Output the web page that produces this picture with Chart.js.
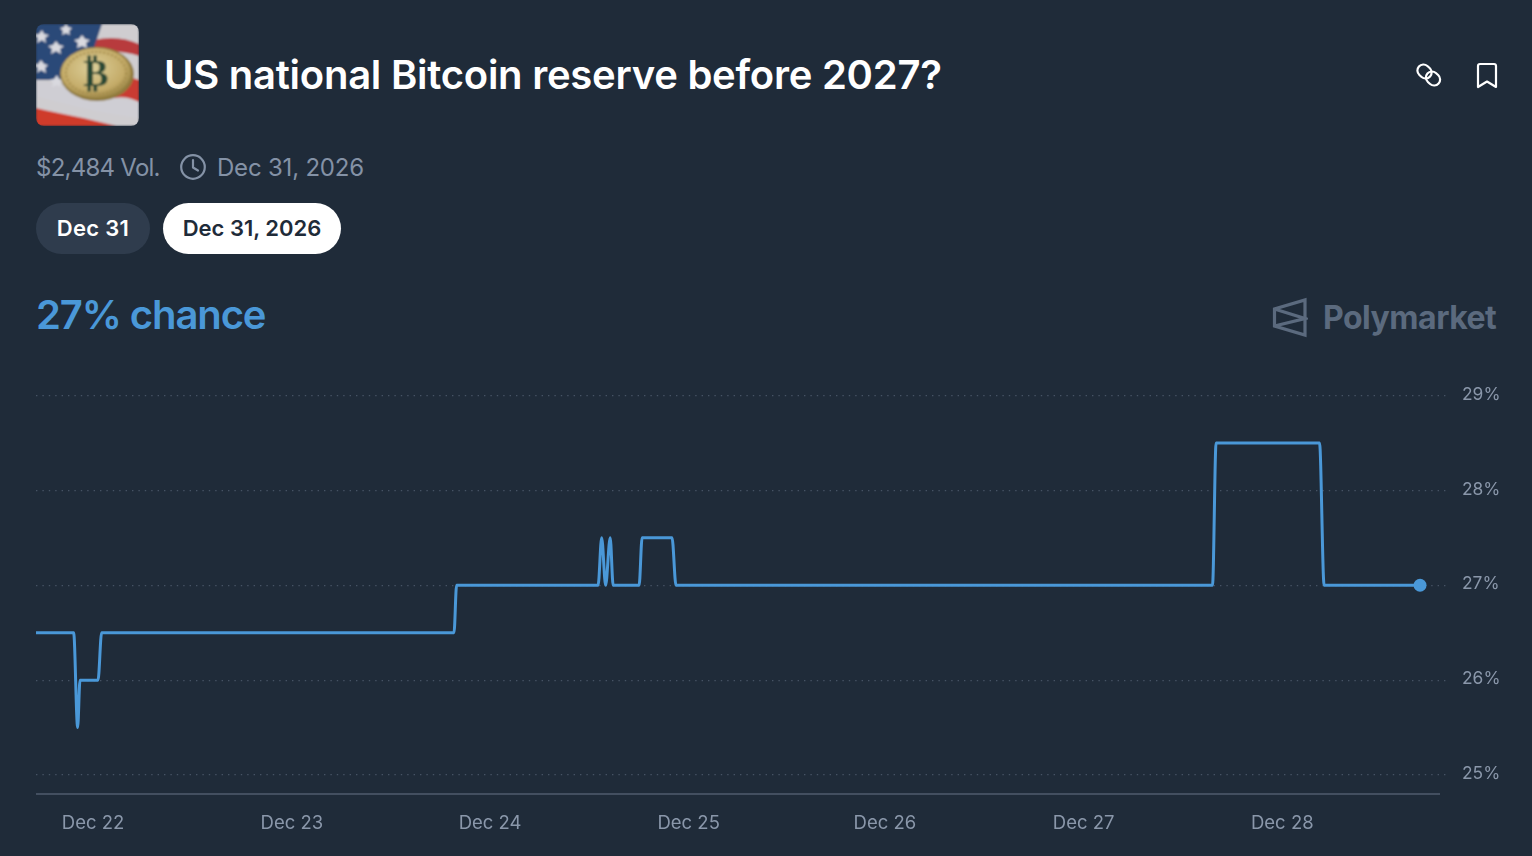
<!DOCTYPE html>
<html>
<head>
<meta charset="utf-8">
<title>US national Bitcoin reserve before 2027?</title>
<script src="https://cdn.jsdelivr.net/npm/chart.js@4"></script>
<style>
html, body { margin: 0; padding: 0; width: 1532px; height: 856px; overflow: hidden; background: #1f2b39; font-family: Inter, "Noto Sans", sans-serif; }
.abs { position: absolute; white-space: nowrap; }
#thumb { left: 36px; top: 24px; width: 103px; height: 102px; border-radius: 8px; overflow: hidden; }
#title { left: 164px; top: 50px; font-size: 40px; line-height: 50px; font-weight: 600; color: #fff; letter-spacing: -0.25px; }
.meta { top: 153px; font-size: 24px; line-height: 30px; color: #8492a6; }
.pill { top: 203px; height: 51px; line-height: 50px; border-radius: 26px; font-size: 22px; font-weight: 600; text-align: center; }
#pill1 { left: 36px; width: 114px; background: #2f3c4d; color: #fff; letter-spacing: 0.3px; }
#pill2 { left: 163px; width: 178px; background: #fff; color: #1f2b39; }
#chance { left: 36px; top: 290px; font-size: 40px; line-height: 50px; font-weight: 600; color: #4a98d8; letter-spacing: -1.1px; }
#brand { left: 1323px; top: 297px; font-size: 32px; line-height: 42px; font-weight: 700; color: #5b6a7e; letter-spacing: -0.5px; }
#wrap { position: absolute; left: 36px; top: 360px; width: 1496px; height: 496px; }
</style>
</head>
<body>

<div class="abs" id="thumb">
<svg width="103" height="102" viewBox="0 0 103 102">
  <defs>
    <filter id="soft"><feGaussianBlur stdDeviation="0.8"/></filter>
    <radialGradient id="gold" cx="45%" cy="40%" r="65%">
      <stop offset="0" stop-color="#dccf9a"/><stop offset="0.7" stop-color="#c4ab68"/><stop offset="1" stop-color="#8f7a3c"/>
    </radialGradient>
  </defs>
  <g filter="url(#soft)">
    <rect width="103" height="102" fill="#cfcdd0"/>
    <path d="M58 16C75 12 90 14 103 20V32C88 27 70 26 54 30Z" fill="#b83a3e"/>
    <path d="M0 0H66L56 30L28 56L0 56Z" fill="#2a4a78"/>
    <path d="M84 50L103 56V78C92 72 82 72 70 76Z" fill="#c93a30"/>
    <path d="M0 56C25 60 60 74 103 78V94C70 90 35 82 0 72Z" fill="#cfced4"/>
    <path d="M0 84C25 90 50 94 80 102H0Z" fill="#cf3a2a"/>
    <path d="M6 6l2 4 5 1-4 3 1 5-4-3-5 3 1-5-4-3 5-1z M30 0l2 3 4 1-3 3 1 4-4-2-4 2 1-4-3-3 4-1z M20 17l3 4 5 1-4 3 1 5-5-3-5 3 1-5-4-3 5-1z M46 11l3 4 5 1-4 3 1 5-5-2-5 2 1-5-4-3 5-1z M5 36l3 4 4 1-3 3 1 5-5-3-4 3 1-5-4-3 4-1z M21 51l2 4 5 1-4 3 1 4-4-2-5 2 1-4-4-3 5-1z" fill="#d9d9df"/>
    <ellipse cx="61" cy="50" rx="37" ry="27" fill="#8f7a3c"/>
    <ellipse cx="60" cy="49" rx="35" ry="25" fill="url(#gold)"/>
    <ellipse cx="60" cy="49" rx="30" ry="21" fill="none" stroke="#a58d4c" stroke-width="2" stroke-dasharray="2 2"/>
    <text x="60" y="62" text-anchor="middle" font-family="DejaVu Sans" font-weight="700" font-size="38" fill="#2c4a35">₿</text>
  </g>
</svg>
</div>

<div class="abs" id="title">US national Bitcoin reserve before 2027?</div>

<svg class="abs" style="left:1414px;top:60px" width="30" height="30" viewBox="0 0 30 30" fill="none" stroke="#fff" stroke-width="2.2">
  <rect x="3" y="5.5" width="15" height="12" rx="6" transform="rotate(42 10.5 11.5)"/>
  <rect x="11.5" y="12.5" width="15" height="12" rx="6" transform="rotate(42 19 18.5)"/>
</svg>
<svg class="abs" style="left:1474px;top:60px" width="26" height="30" viewBox="0 0 26 30" fill="none" stroke="#fff" stroke-width="2.2" stroke-linejoin="round">
  <path d="M4 27V6Q4 4 6 4H20Q22 4 22 6V27L13 21.5Z"/>
</svg>

<div class="abs meta" style="left:36px;letter-spacing:-0.75px">$2,484 Vol.</div>
<svg class="abs" style="left:180px;top:154px" width="26" height="26" viewBox="0 0 26 26" fill="none" stroke="#8492a6" stroke-width="2.2" stroke-linecap="round" stroke-linejoin="round">
  <circle cx="13" cy="13" r="11.8"/><path d="M13 6V13.5L18 16.5"/>
</svg>
<div class="abs meta" style="left:217px;letter-spacing:-0.2px">Dec 31, 2026</div>

<div class="abs pill" id="pill1">Dec 31</div>
<div class="abs pill" id="pill2">Dec 31, 2026</div>

<div class="abs" id="chance">27% chance</div>

<svg class="abs" style="left:1272px;top:297px" width="36" height="41" viewBox="0 0 36 41" fill="none" stroke="#5b6a7e" stroke-width="3.2" stroke-linejoin="miter">
  <path d="M33 3V38L2.5 29V12Z"/>
  <path d="M2.5 12L33 21.5L2.5 29"/>
</svg>
<div class="abs" id="brand">Polymarket</div>

<div id="wrap"><canvas id="chart"></canvas></div>

<script>
// x is the day of December
var seriesDays = [21.712, 21.902, 21.922, 21.934, 22.025, 22.043, 23.821, 23.834, 24.548, 24.566, 24.586, 24.609, 24.624, 24.755, 24.770, 24.921, 24.941, 27.648, 27.666, 28.188, 28.211, 28.695];
var seriesChance = [26.5, 26.5, 25.5, 26, 26, 26.5, 26.5, 27, 27, 27.5, 27, 27.5, 27, 27, 27.5, 27.5, 27, 27, 28.5, 28.5, 27, 27];
var xTickDays = [22, 23.003, 24.003, 25.005, 25.995, 26.998, 28];
var xTickLabels = ['Dec 22', 'Dec 23', 'Dec 24', 'Dec 25', 'Dec 26', 'Dec 27', 'Dec 28'];
var yTickValues = [25, 26, 27, 28, 29];

var points = seriesDays.map(function(d, i) {
    return { x: d, y: seriesChance[i] };
});

var baseline = {
    id: 'baseline',
    afterDatasetsDraw: function(chart) {
        var c = chart.ctx, a = chart.chartArea;
        c.save();
        c.strokeStyle = '#434f60';
        c.lineWidth = 2;
        c.beginPath();
        c.moveTo(a.left, a.bottom);
        c.lineTo(a.right - 6, a.bottom);
        c.stroke();
        c.restore();
    }
};

new Chart(document.getElementById('chart').getContext('2d'), {
    type: 'line',
    data: {
        datasets: [{
            label: 'chance',
            data: points,
            borderColor: '#4a98d8',
            backgroundColor: '#4a98d8',
            borderWidth: 3,
            borderJoinStyle: 'round',
            cubicInterpolationMode: 'monotone',
            clip: false,
            pointBorderWidth: 0,
            pointRadius: function(ctx) { return ctx.dataIndex === points.length - 1 ? 6.5 : 0; }
        }]
    },
    plugins: [baseline],
    options: {
        responsive: true,
        maintainAspectRatio: false,
        animation: false,
        layout: { padding: 0, autoPadding: false },
        plugins: { legend: { display: false }, tooltip: { enabled: false } },
        scales: {
            x: {
                type: 'linear',
                min: 21.712,
                max: 28.826,
                afterFit: function(s) { s.height = 62; },
                afterBuildTicks: function(s) { s.ticks = xTickDays.map(function(v) { return { value: v }; }); },
                grid: { display: false },
                border: { display: false },
                ticks: {
                    autoSkip: false,
                    maxRotation: 0,
                    padding: 10,
                    color: '#8a97aa',
                    font: { family: 'Inter', size: 18.5 },
                    callback: function(v, i) { return xTickLabels[i]; }
                }
            },
            y: {
                position: 'right',
                min: 24.8,
                max: 29.095,
                afterFit: function(s) { s.width = 86; },
                afterBuildTicks: function(s) { s.ticks = yTickValues.map(function(v) { return { value: v }; }); },
                grid: { color: '#465364', lineWidth: 1.2, drawTicks: false },
                border: { display: false, dash: [1.4, 5] },
                ticks: {
                    padding: 16,
                    color: '#8a97aa',
                    labelOffset: -1,
                    font: { family: 'Inter', size: 17.4 },
                    callback: function(v) { return v + '%'; }
                }
            }
        }
    }
});
</script>
</body>
</html>
